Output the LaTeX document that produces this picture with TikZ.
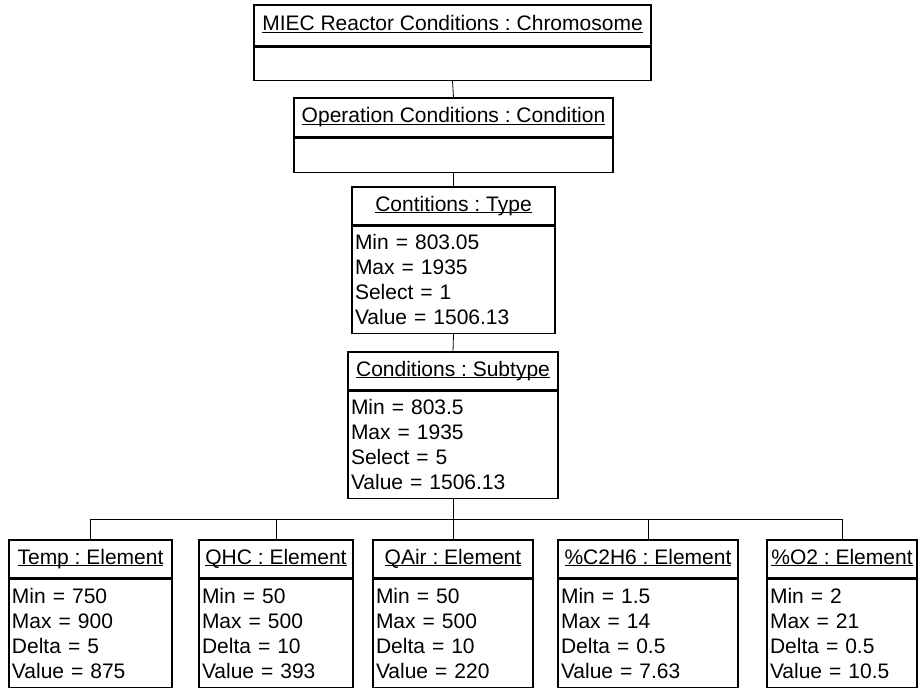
\documentclass[tikz,border=0pt]{standalone}
\usepackage{fontspec}
\setmainfont{Liberation Sans}
\usepackage{tikz}
\frenchspacing
\newcommand{\objname}[1]{\underline{\smash{#1}}\vphantom{Ay}}

\begin{document}
\begin{tikzpicture}[x=1pt,y=1pt]
\tikzstyle{every node}+=[font=\fontsize{21}{25}\selectfont]
\tikzstyle{head}=[draw, line width=1.4pt, inner sep=0pt, minimum height=38pt, minimum width=#1]
\tikzstyle{body}=[draw, line width=1.4pt, inner xsep=3pt, inner ysep=0pt, anchor=north, align=left, minimum height=107pt, text width=#1]
\tikzstyle{link}=[line width=0.8pt]
\useasboundingbox (0,0) rectangle (920,-688);
% chromosome
\node [head=397pt, minimum height=41pt] (miec) at (452.5,-25.5) {\objname{MIEC Reactor Conditions : Chromosome}};
\node [body=391pt, minimum height=33pt] (miecb) at (miec.south) {};
% condition
\node [head=319pt, minimum height=39pt] (oper) at (453.5,-117.5) {\objname{Operation Conditions : Condition}};
\node [body=313pt, minimum height=34pt] (operb) at (oper.south) {};
% type
\node [head=203pt] (type) at (453.5,-206) {\objname{Contitions : Type}};
\node [body=197pt] (typeb) at (type.south) {Min = 803.05\\Max = 1935\\Select = 1\\Value = 1506.13};
% subtype
\node [head=210pt] (sub) at (453,-371) {\objname{Conditions : Subtype}};
\node [body=204pt] (subb) at (sub.south) {Min = 803.5\\Max = 1935\\Select = 5\\Value = 1506.13};
% elements
\node [head=163pt] (temp) at (90.5,-559) {\objname{Temp : Element}};
\node [body=157pt, minimum height=108pt] (tempb) at (temp.south) {Min = 750\\Max = 900\\Delta = 5\\Value = 875};
\node [head=154pt] (qhc) at (276,-559) {\objname{QHC : Element}};
\node [body=148pt, minimum height=108pt] (qhcb) at (qhc.south) {Min = 50\\Max = 500\\Delta = 10\\Value = 393};
\node [head=160pt] (qair) at (453,-559) {\objname{QAir : Element}};
\node [body=154pt, minimum height=108pt] (qairb) at (qair.south) {Min = 50\\Max = 500\\Delta = 10\\Value = 220};
\node [head=180pt] (ethane) at (648,-559) {\objname{\%C2H6 : Element}};
\node [body=174pt, minimum height=108pt] (ethaneb) at (ethane.south) {Min = 1.5\\Max = 14\\Delta = 0.5\\Value = 7.63};
\node [head=150pt] (oxygen) at (842,-559) {\objname{\%O2 : Element}};
\node [body=144pt, minimum height=108pt] (oxygenb) at (oxygen.south) {Min = 2\\Max = 21\\Delta = 0.5\\Value = 10.5};
% links
\draw [link] (miecb.south) -- (oper.north);
\draw [link] (operb.south) -- (type.north);
\draw [link] (typeb.south) -- (sub.north);
\draw [link] (subb.south) -- ++(0,-20) coordinate (bus);
\draw [link] (temp.north) |- (bus);
\draw [link] (qhc.north) |- (bus);
\draw [link] (qair.north) |- (bus);
\draw [link] (ethane.north) |- (bus);
\draw [link] (oxygen.north) |- (bus);
\end{tikzpicture}
\end{document}
